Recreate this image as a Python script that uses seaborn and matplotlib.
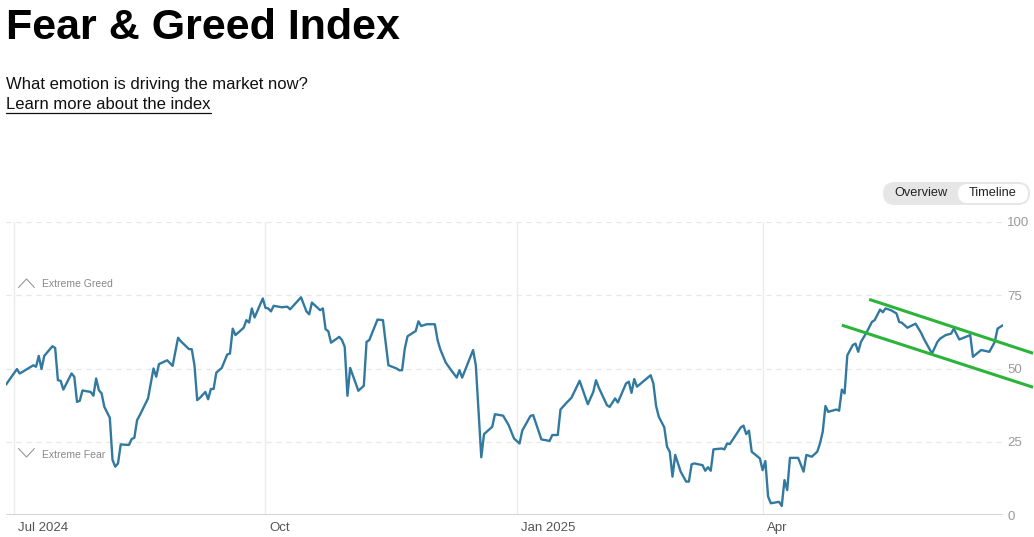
import pandas as pd
import seaborn as sns
import matplotlib.pyplot as plt
import matplotlib.transforms as mtransforms
from matplotlib.lines import Line2D
from matplotlib.patches import FancyBboxPatch

# daily fear & greed readings, x = days after 2024-07-01
start_date = pd.Timestamp("2024-07-01")
days = [-3, 1, 2, 4, 7, 8, 9, 10, 11, 14, 15, 16, 17, 18, 21, 22, 23, 24, 25, 28,
        29, 30, 31, 32, 33, 35, 36, 37, 38, 39, 42, 43, 44, 45, 46, 49, 51, 52, 53, 56,
        58, 60, 61, 64, 65, 66, 67, 68, 70, 71, 72, 73, 74, 76, 78, 79, 80, 81, 84, 85,
        86, 87, 88, 91, 92, 93, 94, 95, 98, 100, 101, 105, 107, 108, 109, 112, 113, 114, 115, 116,
        119, 120, 121, 122, 123, 126, 128, 129, 130, 133, 135, 137, 140, 141, 142, 143, 144, 147, 148, 149,
        151, 154, 155, 156, 158, 160, 162, 163, 164, 168, 169, 171, 172, 175, 176, 179, 181, 183, 185, 186,
        189, 190, 193, 196, 197, 199, 200, 202, 204, 207, 210, 212, 213, 214, 217, 218, 220, 221, 224, 225,
        226, 227, 228, 233, 234, 235, 236, 238, 239, 240, 241, 242, 244, 246, 247, 248, 249, 252, 253, 254,
        255, 256, 259, 260, 261, 262, 266, 267, 268, 269, 270, 273, 274, 275, 276, 277, 280, 281, 282, 283,
        284, 287, 289, 290, 292, 294, 295, 296, 297, 298, 301, 302, 303, 304, 305, 307, 308, 309, 310, 312,
        314, 315, 317, 318, 319, 321, 323, 324, 325, 327, 330, 332, 333, 336, 338, 339, 341, 343, 344, 346,
        350, 351, 354, 357, 359, 360, 362]
index_values = [44.5, 49.8, 48.3, 49.4, 51.1, 50.6, 54.3, 49.8, 54.3, 57.6, 57.0, 46.0, 45.8, 42.8, 48.3, 47.2, 38.6, 39.0, 42.5, 42.0,
                40.7, 46.6, 42.6, 41.5, 36.9, 33.2, 18.8, 16.5, 17.6, 24.1, 23.9, 25.9, 26.4, 32.4, 34.1, 39.8, 50.0, 47.2, 51.5, 52.8,
                50.9, 60.5, 59.3, 56.6, 56.6, 51.1, 39.2, 40.0, 42.0, 39.5, 43.0, 43.0, 48.6, 50.2, 54.8, 55.1, 63.6, 61.4, 63.9, 66.5,
                65.7, 70.5, 67.4, 73.9, 70.7, 70.5, 69.5, 71.4, 70.9, 71.1, 70.2, 74.3, 69.5, 68.5, 72.5, 69.9, 70.5, 63.4, 62.7, 58.8,
                60.8, 59.7, 57.4, 40.7, 50.2, 42.4, 44.1, 59.1, 59.7, 66.7, 66.5, 51.1, 50.0, 49.4, 49.4, 56.8, 61.0, 62.8, 66.1, 64.5,
                65.1, 65.1, 59.7, 56.5, 52.0, 49.4, 46.9, 49.4, 46.9, 56.3, 51.1, 19.7, 27.6, 30.1, 34.4, 33.9, 30.7, 26.1, 24.4, 28.8,
                33.8, 34.1, 25.8, 25.3, 27.3, 27.3, 36.0, 38.1, 40.0, 45.8, 37.8, 42.0, 46.0, 43.5, 37.5, 36.9, 39.8, 38.4, 44.9, 45.5,
                41.7, 46.4, 43.8, 47.7, 44.9, 37.2, 33.5, 29.9, 23.3, 21.6, 13.1, 20.5, 14.8, 11.4, 11.4, 17.3, 17.6, 17.0, 15.1, 16.3,
                15.1, 22.4, 22.7, 22.4, 24.4, 24.2, 29.9, 30.5, 27.6, 28.8, 21.6, 19.3, 15.3, 18.4, 6.3, 4.0, 4.5, 3.1, 11.9, 8.5,
                19.5, 19.5, 14.8, 20.5, 19.9, 21.6, 24.4, 28.4, 37.2, 35.2, 36.0, 35.6, 42.8, 41.5, 54.5, 58.0, 58.5, 55.7, 59.1, 62.2,
                65.9, 66.5, 70.1, 69.2, 70.5, 69.9, 68.8, 65.9, 65.6, 63.9, 65.3, 62.2, 60.2, 55.1, 59.1, 60.2, 61.4, 61.9, 63.6, 59.9,
                61.4, 54.0, 56.3, 55.7, 59.1, 63.6, 64.8]

# hand-drawn channel lines (days, value)
upper_days = [313, 373]
upper_values = [73.6, 55.2]
lower_days = [303, 373]
lower_values = [64.8, 43.6]

month_ticks = ["2024-07-01", "2024-10-01", "2025-01-01", "2025-04-01"]
month_labels = ["Jul 2024", "Oct", "Jan 2025", "Apr"]
y_ticks = [0, 25, 50, 75, 100]

df = pd.DataFrame({"date": start_date + pd.to_timedelta(days, unit="D"), "value": index_values})

sns.set_theme(style="white")
plt.rcParams["font.family"] = ["Liberation Sans", "DejaVu Sans"]

W, H = 1034, 537
fig = plt.figure(figsize=(W / 100, H / 100), dpi=100)
ax = fig.add_axes([6 / W, 22 / H, 997 / W, 293 / H])
ax.set_facecolor("none")

sns.lineplot(data=df, x="date", y="value", ax=ax, color="#3279a0", lw=1.7, zorder=3)

for d, v in [(upper_days, upper_values), (lower_days, lower_values)]:
    ax.plot(start_date + pd.to_timedelta(d, unit="D"), v, color="#2bb33a", lw=2.2,
            clip_on=False, zorder=4, solid_capstyle="butt")

ax.set_xlim(start_date + pd.Timedelta(days=-3), start_date + pd.Timedelta(days=362))
ax.set_ylim(0, 100)
for s in ax.spines.values():
    s.set_visible(False)

# gridlines
for t in y_ticks[1:]:
    ax.axhline(t, color="#e6e6e6", lw=0.9, ls=(0, (4, 4)), zorder=1)
ax.axhline(0, color="#d2d2d2", lw=2, zorder=2)
for t in pd.to_datetime(month_ticks):
    ax.axvline(t, color="#ebebeb", lw=1, zorder=1)

ax.set_xticks(pd.to_datetime(month_ticks))
ax.set_xticklabels(month_labels)
ax.set_yticks(y_ticks)
ax.yaxis.tick_right()
ax.tick_params(axis="y", length=0, pad=3, labelsize=9.5, labelcolor="#999999")
ax.tick_params(axis="x", length=0, pad=5, labelsize=9.5, labelcolor="#555555")
ax.set_xlabel("")
ax.set_ylabel("")
offset = mtransforms.ScaledTranslation(4 / 100, 0, fig.dpi_scale_trans)
for lab in ax.get_xticklabels():
    lab.set_horizontalalignment("left")
    lab.set_transform(lab.get_transform() + offset)

# zone labels with chevrons
blend = mtransforms.blended_transform_factory(fig.transFigure, ax.transData)
ax.text(42 / W, 79, "Extreme Greed", transform=blend, fontsize=7.5, color="#888888", va="center")
ax.text(42 / W, 20.5, "Extreme Fear", transform=blend, fontsize=7.5, color="#888888", va="center")
ax.add_line(Line2D([18.5 / W, 26.5 / W, 34.5 / W], [(515 - 287.5) / 2.93, (515 - 279) / 2.93, (515 - 287.5) / 2.93],
                   transform=blend, color="#999999", lw=0.8, clip_on=False))
ax.add_line(Line2D([18.5 / W, 26.5 / W, 34.5 / W], [(515 - 448.5) / 2.93, (515 - 457) / 2.93, (515 - 448.5) / 2.93],
                   transform=blend, color="#999999", lw=0.8, clip_on=False))

# header
fig.text(6 / W, 1 - 39 / H, "Fear & Greed Index", fontsize=31, fontweight="bold", color="black", va="baseline")
fig.text(6 / W, 1 - 89 / H, "What emotion is driving the market now?", fontsize=12, color="#111111", va="baseline")
link = fig.text(6 / W, 1 - 109 / H, "Learn more about the index", fontsize=12, color="#111111", va="baseline")
fig.canvas.draw()
bb = link.get_window_extent(fig.canvas.get_renderer())
fig.add_artist(Line2D([bb.x0 / W, bb.x1 / W], [1 - 112.5 / H, 1 - 112.5 / H], transform=fig.transFigure,
                      color="#111111", lw=0.9))

# view toggle (pixel coordinates, origin bottom-left)
fig.add_artist(FancyBboxPatch((883, H - 205), 147, 23, boxstyle="round,pad=0,rounding_size=11.5",
                              transform=None, fc="#e6e6e6", ec="none"))
fig.add_artist(FancyBboxPatch((958, H - 203), 70, 19, boxstyle="round,pad=0,rounding_size=9.5",
                              transform=None, fc="white", ec="none"))
fig.text(921 / W, 1 - 193 / H, "Overview", fontsize=9.2, color="#222222", ha="center", va="center")
fig.text(993 / W, 1 - 193 / H, "Timeline", fontsize=9.2, color="#222222", ha="center", va="center")

fig.savefig("out.png", dpi=100, facecolor="white")
